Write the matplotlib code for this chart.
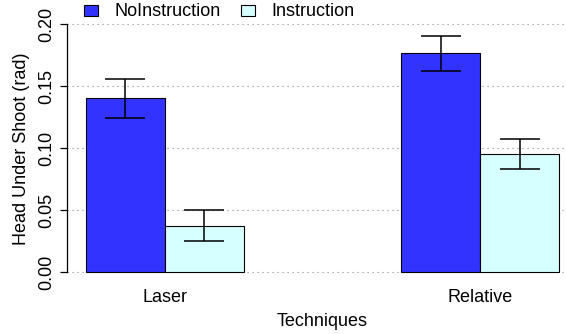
#
# Head under shoot per technique, with and without instruction.
# Grouped bars with error bars, laid out like an R barplot.
#

import matplotlib
matplotlib.use('Agg')
import matplotlib.pyplot as plt
import numpy as np

techniques = ["Laser", "Relative"]
series_names = ["NoInstruction", "Instruction"]
no_instruction = [0.1403, 0.1766]
no_instruction_err = [0.0155, 0.0139]
instruction = [0.0376, 0.0952]
instruction_err = [0.0125, 0.0121]
y_ticks = [0.00, 0.05, 0.10, 0.15, 0.20]

BLUE = '#3333ff'
CYAN = '#d6ffff'


def main():
    plt.rcParams['font.family'] = ['Liberation Sans', 'DejaVu Sans']
    plt.rcParams['font.size'] = 13

    fig = plt.figure(figsize=(5.66, 3.34), dpi=100, facecolor='white')
    # plot region as R would place it (it runs a bit past the right edge)
    ax = fig.add_axes([67 / 566, 0.1551, 511 / 566, 0.8018])

    # R barplot positions: bar width 1, space of 2 before each group
    group_start = 2 + 4 * np.arange(len(techniques))
    values = [no_instruction, instruction]
    errors = [no_instruction_err, instruction_err]
    colors = [BLUE, CYAN]

    for i in range(len(series_names)):
        left = group_start + i
        ax.bar(left, values[i], width=1, align='edge', color=colors[i],
               edgecolor='black', linewidth=0.8, label=series_names[i],
               zorder=2)
        ax.errorbar(left + 0.5, values[i], yerr=errors[i], fmt='none',
                    ecolor='black', elinewidth=1.1, capsize=14.4,
                    capthick=1.1, zorder=3)

    ax.set_xlim(1.76, 8.24)
    ax.set_ylim(-0.008, 0.208)

    # dotted horizontal grid behind the bars
    for y in y_ticks:
        ax.axhline(y, color='#8c8c8c', linestyle=(0, (1, 3.5)),
                   linewidth=0.8, zorder=1)

    for side in ['top', 'right', 'bottom']:
        ax.spines[side].set_visible(False)
    ax.spines['left'].set_bounds(0, 0.2)
    ax.spines['left'].set_linewidth(0.9)

    ax.set_yticks(y_ticks)
    ax.set_yticklabels(["%.2f" % y for y in y_ticks], rotation=90,
                       va='center')
    ax.tick_params(axis='y', length=5, width=0.9, pad=3.5)

    ax.set_xticks(group_start + 1)
    ax.set_xticklabels(techniques)
    ax.tick_params(axis='x', length=0, pad=5)

    ax.set_xlabel("Techniques", labelpad=5)
    ax.set_ylabel("Head Under Shoot (rad)")
    ax.yaxis.set_label_coords(-0.073, 0.5)

    ax.legend(loc='center left', bbox_to_anchor=(84 / 566, 1 - 12 / 334),
              bbox_transform=fig.transFigure, ncol=2, frameon=False,
              borderpad=0, borderaxespad=0, handlelength=0.8,
              handleheight=0.55, handletextpad=0.9, columnspacing=1.1)

    fig.savefig('out.png', dpi=100)


if __name__ == "__main__":
    main()
